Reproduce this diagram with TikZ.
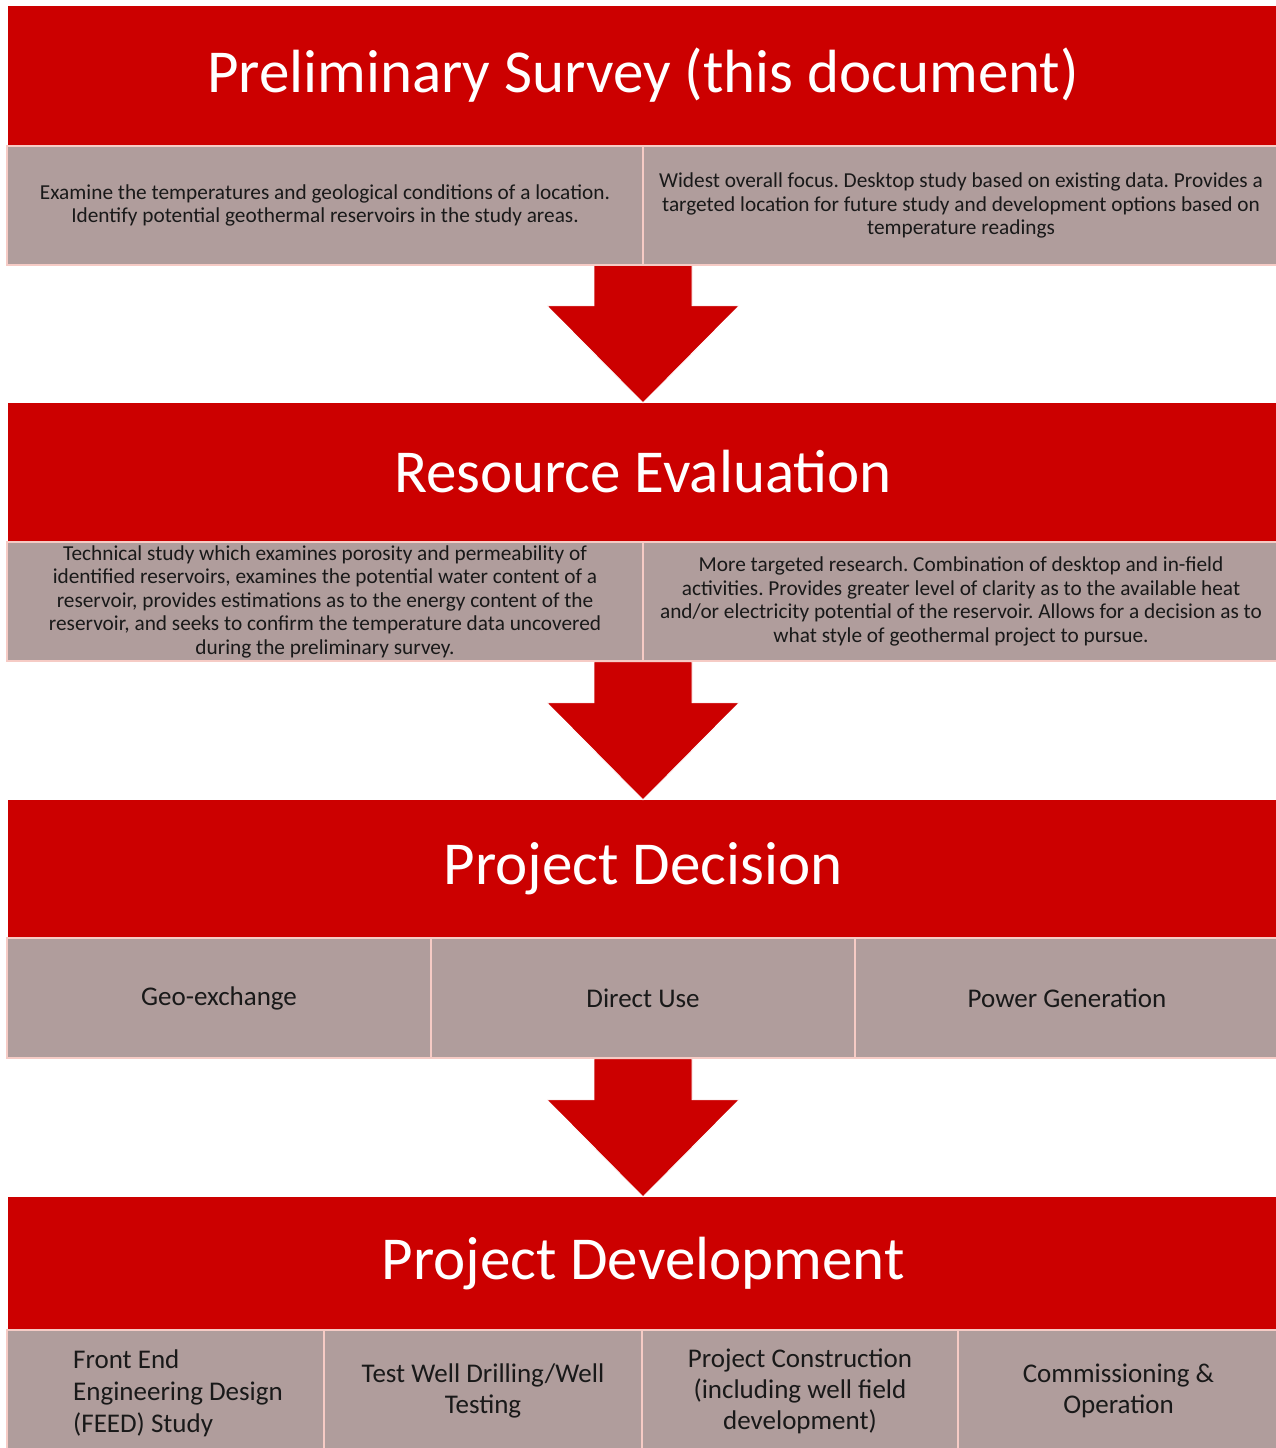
\documentclass[tikz,border=0pt]{standalone}
\usepackage{fontspec}
\setmainfont{Carlito}
\frenchspacing
\usetikzlibrary{positioning,calc}
\definecolor{stagered}{HTML}{CC0000}
\definecolor{stagegrey}{HTML}{B09D9C}
\definecolor{cellline}{HTML}{F6CBC5}

\begin{document}
\begin{tikzpicture}[
x = 1pt, y = -1pt,
every node/.style = {
	font = \fontsize{21.3}{23.5}\selectfont,
	inner sep = 0pt
},
stage/.style = {
	fill = stagered,
	text = white,
	minimum width = 1270pt,
	font = \fontsize{61}{73}\selectfont
},
cell/.style = {
	fill = stagegrey,
	draw = cellline,
	line width = 2.5pt,
	align = center,
	text = black!90
},
option/.style = {
	cell,
	font = \fontsize{27}{31}\selectfont
},
flow/.style = {
	fill = stagered,
	draw = white,
	line width = 0.8pt
}
]
\useasboundingbox (0,0) rectangle (1276,1448);

% stages
\node [stage, minimum height=139pt] (survey) at (643,75.5) {Preliminary Survey (this document)};
\node [stage, minimum height=138pt] (evaluation) at (643,472) {Resource Evaluation};
\node [stage, minimum height=138pt] (decision) at (643,869) {Project Decision};
\node [stage, minimum height=133pt] (development) at (643,1263.5) {Project Development};

\foreach \stg in {evaluation, decision, development}
	\filldraw [flow, shift={(\stg.north)}] (-49,-138) -- (49,-138) -- (49,-97) -- (96,-97)
		-- (0,0) -- (-96,-97) -- (-49,-97) -- cycle;

% survey
\node [cell, minimum width=636pt, minimum height=119pt] (survey-task) at (325,205.5)
	{Examine the temperatures and geological conditions of a location.\\
	 Identify potential geothermal reservoirs in the study areas.};
\node [cell, minimum width=636pt, minimum height=119pt] (survey-scope) at (961,205.5)
	{Widest overall focus. Desktop study based on existing data. Provides a\\
	 targeted location for future study and development options based on\\
	 temperature readings};

% evaluation
\node [cell, minimum width=636pt, minimum height=119pt] (evaluation-task) at (325,601.5)
	{Technical study which examines porosity and permeability of\\
	 identified reservoirs, examines the potential water content of a\\
	 reservoir, provides estimations as to the energy content of the\\
	 reservoir, and seeks to confirm the temperature data uncovered\\
	 during the preliminary survey.};
\node [cell, minimum width=636pt, minimum height=119pt] (evaluation-scope) at (961,601.5)
	{More targeted research. Combination of desktop and in-field\\
	 activities. Provides greater level of clarity as to the available heat\\
	 and/or electricity potential of the reservoir. Allows for a decision as to\\
	 what style of geothermal project to pursue.};

% decision
\node [option, minimum width=424pt, minimum height=120pt] (geo) at (219,998) {Geo-exchange};
\node [option, minimum width=424pt, minimum height=120pt] (direct) at (643,998) {Direct Use};
\node [option, minimum width=424pt, minimum height=120pt] (power) at (1067,998) {Power Generation};

% development
\node [option, minimum width=317pt, minimum height=122pt] (feed) at (165.5,1391) {};
\node [font=\fontsize{27}{32}\selectfont, align=left, anchor=west, text=black!90] (feed-text) at (73,1393)
	{Front End\\Engineering Design\\(FEED) Study};
\node [option, minimum width=318pt, minimum height=122pt] (drilling) at (483,1391)
	{Test Well Drilling/Well\\Testing};
\node [option, minimum width=316pt, minimum height=122pt] (construction) at (800,1391)
	{Project Construction\\(including well field\\development)};
\node [option, minimum width=321pt, minimum height=122pt] (operation) at (1118.5,1391)
	{Commissioning \&\\Operation};

\end{tikzpicture}
\end{document}
